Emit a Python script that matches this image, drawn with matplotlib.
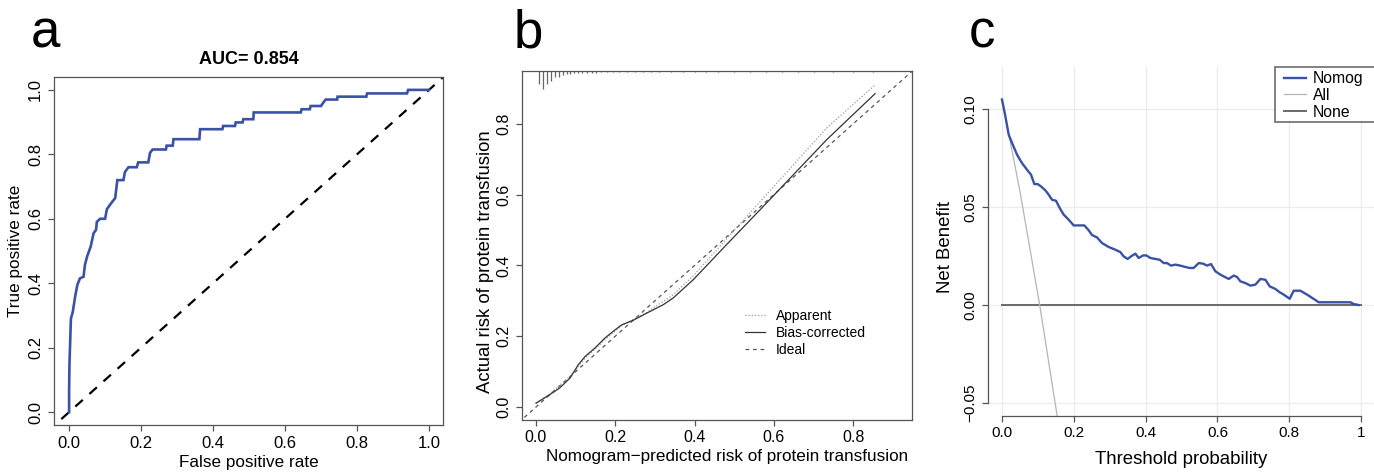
import matplotlib
matplotlib.use('Agg')
import matplotlib.pyplot as plt
import matplotlib.transforms as mtransforms
from matplotlib.patches import Rectangle

plt.rcParams['font.family'] = ['Liberation Sans', 'DejaVu Sans']

# ---------------- data ----------------
# Panel a: ROC curve
roc_fpr = [0.0, 0.0, 0.001, 0.005, 0.01, 0.017, 0.023, 0.03, 0.04, 0.044,
           0.05, 0.06, 0.068, 0.075, 0.077, 0.086, 0.10, 0.105, 0.118, 0.128,
           0.134, 0.151, 0.155, 0.165, 0.188, 0.192, 0.22, 0.225, 0.232, 0.269,
           0.271, 0.288, 0.29, 0.362, 0.364, 0.426, 0.428, 0.461, 0.463, 0.482,
           0.484, 0.512, 0.513, 0.644, 0.646, 0.669, 0.671, 0.70, 0.706, 0.713,
           0.745, 0.746, 0.826, 0.828, 0.939, 0.942, 1.0]
roc_tpr = [0.0, 0.07, 0.15, 0.29, 0.31, 0.36, 0.395, 0.415, 0.42, 0.457,
           0.483, 0.514, 0.555, 0.566, 0.59, 0.60, 0.60, 0.63, 0.65, 0.664,
           0.72, 0.72, 0.745, 0.76, 0.76, 0.775, 0.775, 0.805, 0.815, 0.815,
           0.827, 0.827, 0.847, 0.847, 0.878, 0.878, 0.888, 0.888, 0.899, 0.899,
           0.909, 0.909, 0.93, 0.93, 0.94, 0.94, 0.95, 0.95, 0.96, 0.97,
           0.97, 0.979, 0.979, 0.989, 0.989, 1.0, 1.0]
auc_value = 0.854
roc_ticks = [0.0, 0.2, 0.4, 0.6, 0.8, 1.0]

# Panel b: calibration curve
cal_pred = [0.0, 0.035, 0.06, 0.086, 0.107, 0.124, 0.149, 0.174, 0.195, 0.216,
            0.245, 0.279, 0.321, 0.346, 0.397, 0.48, 0.565, 0.649, 0.733, 0.855]
cal_bias_corrected = [0.011, 0.035, 0.054, 0.082, 0.12, 0.143, 0.167, 0.195, 0.214, 0.232,
                      0.245, 0.265, 0.289, 0.308, 0.36, 0.458, 0.557, 0.656, 0.755, 0.885]
app_pred = [0.0, 0.035, 0.086, 0.124, 0.174, 0.216, 0.279, 0.346, 0.397, 0.48,
            0.565, 0.649, 0.733, 0.855]
cal_apparent = [0.009, 0.037, 0.087, 0.138, 0.19, 0.23, 0.267, 0.317, 0.371, 0.474,
                0.58, 0.684, 0.788, 0.91]
rug_x = [0.008, 0.018, 0.028, 0.038, 0.048, 0.058, 0.067, 0.077, 0.087, 0.097,
         0.107, 0.117, 0.128, 0.14, 0.152, 0.165, 0.18, 0.195, 0.21, 0.23,
         0.25, 0.27, 0.29, 0.31, 0.34, 0.37, 0.40, 0.43, 0.46, 0.50,
         0.54, 0.58, 0.62, 0.66, 0.70, 0.75, 0.80, 0.85]
rug_len = [0.037, 0.052, 0.037, 0.029, 0.017, 0.017, 0.012, 0.0095, 0.0077, 0.0066,
           0.0057, 0.0049, 0.0045, 0.0043, 0.0043, 0.004, 0.004, 0.004, 0.0035, 0.0035,
           0.0035, 0.003, 0.003, 0.003, 0.003, 0.003, 0.003, 0.003, 0.003, 0.003,
           0.003, 0.003, 0.003, 0.003, 0.003, 0.003, 0.003, 0.003]
cal_ticks = [0.0, 0.2, 0.4, 0.6, 0.8]
cal_legend = ['Apparent', 'Bias-corrected', 'Ideal']

# Panel c: decision curve
dca_t = [0.0, 0.0093, 0.0186, 0.0279, 0.0418, 0.0557, 0.0696, 0.0808, 0.09, 0.0993,
         0.1086, 0.1207, 0.13, 0.1393, 0.1504, 0.1606, 0.1718, 0.1857, 0.1996, 0.2136,
         0.2293, 0.2414, 0.2507, 0.2646, 0.2786, 0.2971, 0.3157, 0.3296, 0.3389, 0.35,
         0.3593, 0.3714, 0.3807, 0.3928, 0.4021, 0.4132, 0.4244, 0.4392, 0.4503, 0.4596,
         0.4708, 0.4828, 0.4967, 0.5107, 0.5227, 0.5339, 0.5478, 0.5599, 0.571, 0.5822,
         0.5942, 0.6082, 0.6174, 0.6314, 0.6453, 0.6546, 0.6639, 0.6778, 0.6917, 0.7057,
         0.7196, 0.7335, 0.7456, 0.7614, 0.7735, 0.7846, 0.8013, 0.8124, 0.831, 0.8496,
         0.8682, 0.8821, 0.9703, 0.9796, 0.9935]
dca_nomogram = [0.1048, 0.0963, 0.0869, 0.0827, 0.0767, 0.0724, 0.069, 0.0665, 0.0617, 0.0617,
                0.0605, 0.0585, 0.0563, 0.0537, 0.0532, 0.0495, 0.0461, 0.0435, 0.0406, 0.0406,
                0.0406, 0.0381, 0.0357, 0.0345, 0.0316, 0.0296, 0.0282, 0.027, 0.0248, 0.0235,
                0.0248, 0.0262, 0.024, 0.0253, 0.0253, 0.024, 0.0236, 0.0231, 0.0214, 0.0214,
                0.0201, 0.0206, 0.0201, 0.0194, 0.0189, 0.0189, 0.0214, 0.0211, 0.0201, 0.0209,
                0.0172, 0.0155, 0.0146, 0.0133, 0.015, 0.0143, 0.0121, 0.0112, 0.0099, 0.0104,
                0.0133, 0.0129, 0.0095, 0.0082, 0.0065, 0.0053, 0.0032, 0.0073, 0.0073, 0.0053,
                0.0031, 0.0014, 0.0014, 0.0005, 0.0]
dca_all_t = [0.0, 0.05, 0.105, 0.16]
dca_all = [0.1048, 0.058, 0.0, -0.064]
dca_none_t = [0.0, 1.0]
dca_none = [0.0, 0.0]
dca_xticks = [0.0, 0.2, 0.4, 0.6, 0.8, 1.0]
dca_xticklabels = ['0.0', '0.2', '0.4', '0.6', '0.8', '1']
dca_yticks = [-0.05, 0.0, 0.05, 0.10]
dca_yticklabels = ['\u22120.05', '0.00', '0.05', '0.10']
dca_legend = ['Nomog', 'All', 'None']

# ---------------- figure ----------------
W, H = 1374, 472
fig = plt.figure(figsize=(W / 100, H / 100), dpi=100)

def px_axes(l, r, t, b):
    return fig.add_axes([l / W, 1 - b / H, (r - l) / W, (b - t) / H])

BLUE = '#3a52a6'
SPINE = '#555555'

def style_ticks(ax, size=11, pad=3.5):
    ax.tick_params(direction='out', length=4.5, width=0.9, color=SPINE,
                   labelsize=size, pad=pad, labelcolor='black')
    ax.tick_params(axis='y', labelrotation=90)
    for lab in ax.get_yticklabels():
        lab.set_va('center')

# ---- panel a ----
axa = px_axes(54, 443, 77, 425)
axa.plot(roc_fpr, roc_tpr, color=BLUE, lw=1.9, solid_joinstyle='miter', zorder=3)
axa.plot([-0.1, 1.1], [-0.1, 1.1], color='black', lw=1.6, dashes=(4.5, 4), zorder=2)
axa.set_xlim(-0.042, 1.039)
axa.set_ylim(-0.040, 1.040)
axa.set_xticks(roc_ticks)
axa.set_yticks(roc_ticks)
axa.set_xticklabels([f'{v:.1f}' for v in roc_ticks])
axa.set_yticklabels([f'{v:.1f}' for v in roc_ticks])
for s in axa.spines.values():
    s.set_color(SPINE)
    s.set_linewidth(0.9)
style_ticks(axa, 12, 3.5)
axa.set_xlabel('False positive rate', fontsize=12.3)
axa.xaxis.set_label_coords(0.5, (425 - 463) / 348)
axa.xaxis.label.set_va('center')
axa.set_ylabel('True positive rate', fontsize=12.3)
axa.yaxis.set_label_coords((15 - 54) / 389, 0.5)
axa.yaxis.label.set_va('center')
axa.set_title(f'AUC= {auc_value}', fontsize=13, fontweight='bold', pad=9.5)

# ---- panel b ----
axb = px_axes(522, 912, 71, 420)
axb.plot([-0.1, 1.1], [-0.1, 1.1], color='#555555', lw=0.9, dashes=(3, 3), label=cal_legend[2], zorder=2)
axb.plot(app_pred, cal_apparent, color='#9a9a9a', lw=0.9, dashes=(1, 1.5), label=cal_legend[0], zorder=3)
axb.plot(cal_pred, cal_bias_corrected, color='#333333', lw=0.9, label=cal_legend[1], zorder=4)
trans = mtransforms.blended_transform_factory(axb.transData, axb.transAxes)
axb.vlines(rug_x, [1 - h for h in rug_len], 1.0, transform=trans, color='#666666', lw=0.9)
axb.set_xlim(-0.0353, 0.9483)
axb.set_ylim(-0.0367, 0.9492)
axb.set_xticks(cal_ticks)
axb.set_yticks(cal_ticks)
axb.set_xticklabels([f'{v:.1f}' for v in cal_ticks])
axb.set_yticklabels([f'{v:.1f}' for v in cal_ticks])
for s in axb.spines.values():
    s.set_color(SPINE)
    s.set_linewidth(0.9)
style_ticks(axb, 11.5, 3)
axb.set_xlabel('Nomogram\u2212predicted risk of protein transfusion', fontsize=12.3)
axb.xaxis.set_label_coords((727 - 522) / 390, (420 - 457) / 349)
axb.xaxis.label.set_va('center')
axb.set_ylabel('Actual risk of protein transfusion', fontsize=13.3)
axb.yaxis.set_label_coords((485 - 522) / 390, (420 - 262) / 349)
axb.yaxis.label.set_va('center')
hb, lb = axb.get_legend_handles_labels()
order = [lb.index(n) for n in cal_legend]
axb.legend([hb[i] for i in order], [lb[i] for i in order], loc='upper left',
           bbox_to_anchor=((745 - 522) / 390, (420 - 309) / 349), frameon=False,
           fontsize=10, handlelength=1.45, handletextpad=0.75, borderpad=0,
           borderaxespad=0, labelspacing=0.2)

# ---- panel c ----
axc = px_axes(988, 1374, 67, 416)
axc.set_xlim(-0.039, 1.036)
axc.set_ylim(-0.0566, 0.1214)
axc.set_xticks(dca_xticks)
axc.set_xticklabels(dca_xticklabels)
axc.set_yticks(dca_yticks)
axc.set_yticklabels(dca_yticklabels)
axc.grid(True, color='#ececec', lw=0.9, zorder=0)
axc.set_axisbelow(True)
axc.plot(dca_none_t, dca_none, color='#6a6a6a', lw=1.4, label=dca_legend[2], zorder=2)
axc.plot(dca_all_t, dca_all, color='#b5b5b5', lw=0.9, label=dca_legend[1], zorder=2)
axc.plot(dca_t, dca_nomogram, color=BLUE, lw=1.7, label=dca_legend[0], zorder=3)
for k in ('top', 'right'):
    axc.spines[k].set_visible(False)
for k in ('left', 'bottom'):
    axc.spines[k].set_color(SPINE)
    axc.spines[k].set_linewidth(0.9)
axc.spines['left'].set_bounds(-0.05, 0.10)
axc.spines['bottom'].set_bounds(0.0, 1.0)
style_ticks(axc, 11, 3)
axc.set_xlabel('Threshold probability', fontsize=13.4)
axc.xaxis.set_label_coords(0.5, (416 - 460) / 349)
axc.xaxis.label.set_va('center')
axc.set_ylabel('Net Benefit', fontsize=13.4)
axc.yaxis.set_label_coords((946 - 988) / 386, (416 - 247) / 349)
axc.yaxis.label.set_va('center')
# legend frame (runs past the right edge of the figure, as in the reference)
frame = Rectangle((1275 / W, 1 - 122 / H), 130 / W, 55 / H, transform=fig.transFigure,
                  facecolor='white', edgecolor='#777777', lw=1.3, zorder=5, clip_on=False)
axc.add_artist(frame)
hc, lc = axc.get_legend_handles_labels()
order = [lc.index(n) for n in dca_legend]
legc = axc.legend([hc[i] for i in order], [lc[i] for i in order], loc='upper left',
                  bbox_to_anchor=((1284 - 988) / 386, (416 - 71) / 349), frameon=False,
                  fontsize=11.3, handlelength=1.4, handletextpad=0.45, borderpad=0,
                  borderaxespad=0, labelspacing=0.12)
legc.set_zorder(6)

# panel letters
for letter, xl in (('a', 31), ('b', 514), ('c', 969)):
    fig.text(xl / W, 1 - 47 / H, letter, fontsize=38, ha='left', va='baseline')

fig.savefig('out.png', dpi=100)
